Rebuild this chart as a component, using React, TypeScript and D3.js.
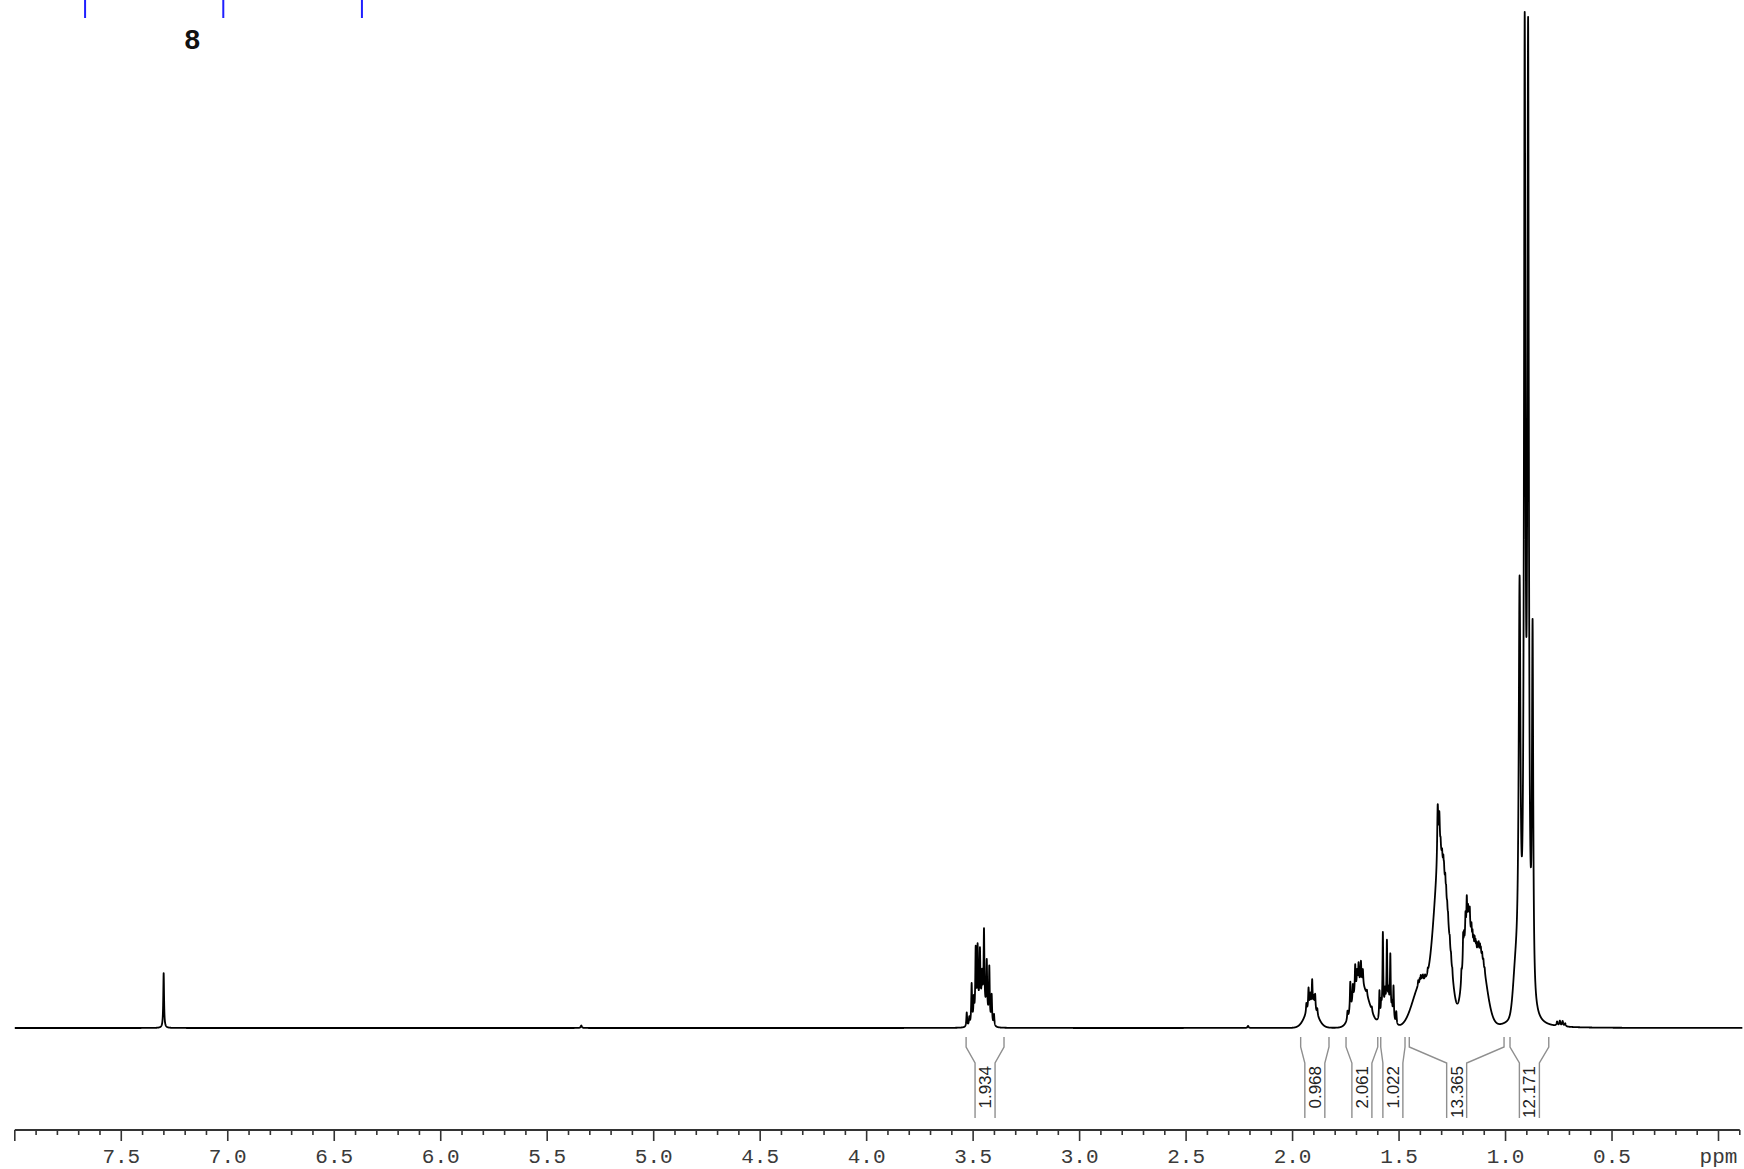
import React, { useMemo } from "react";
import * as d3 from "d3";

// ---- Spectrum data -------------------------------------------------------
// Resolved lines per multiplet: [shift (ppm), height (% of tallest line), half width (ppm)]
const linesCHCl3: number[][] = [[7.301, 5.4, 0.0022]];
const linesMinor: number[][] = [
  [5.34, 0.25, 0.003],
  [2.209, 0.2, 0.003],
];
const lines346: number[][] = [
  [3.53, 1.4, 0.0022], [3.518, 0.8, 0.0022], [3.507, 3.9, 0.0022], [3.497, 2.0, 0.0022],
  [3.488, 6.5, 0.0022], [3.479, 6.1, 0.0022], [3.468, 5.3, 0.0022], [3.458, 2.8, 0.0022],
  [3.449, 7.4, 0.0022], [3.436, 5.1, 0.0022], [3.424, 5.2, 0.0022], [3.413, 2.8, 0.0022],
  [3.402, 1.1, 0.0022],
];
const lines191: number[][] = [
  [1.935, 0.9, 0.0022], [1.925, 2.0, 0.0022], [1.917, 1.2, 0.0022], [1.908, 2.6, 0.0022],
  [1.9, 1.0, 0.0022], [1.894, 1.5, 0.0022], [1.884, 0.6, 0.0022],
];
const lines169: number[][] = [
  [1.742, 0.8, 0.0022], [1.729, 2.9, 0.0022], [1.717, 1.6, 0.0022], [1.706, 2.7, 0.0022],
  [1.697, 1.5, 0.0022], [1.69, 2.0, 0.0022], [1.679, 2.1, 0.0022], [1.67, 1.5, 0.0022],
  [1.651, 0.5, 0.0022], [1.628, 0.4, 0.0022],
];
const lines156: number[][] = [
  [1.592, 2.7, 0.002], [1.584, 1.2, 0.002], [1.576, 7.7, 0.002], [1.566, 1.5, 0.002],
  [1.557, 6.3, 0.002], [1.549, 1.5, 0.002], [1.541, 5.5, 0.002], [1.533, 1.0, 0.002],
  [1.526, 3.2, 0.002], [1.513, 1.2, 0.002],
];
const lines130: number[][] = [
  [1.41, 0.5, 0.0018], [1.403, 0.4, 0.0015], [1.398, 0.6, 0.0018], [1.392, 0.4, 0.0015],
  [1.388, 0.5, 0.0018], [1.378, 0.4, 0.0018], [1.365, 0.4, 0.0015],
  [1.3185, 5.8, 0.003], [1.311, 3.8, 0.003], [1.305, 0.8, 0.0015], [1.298, 0.7, 0.0015],
  [1.292, 0.9, 0.0015], [1.289, 0.7, 0.0015], [1.283, 1.0, 0.0015], [1.279, 0.8, 0.0015],
  [1.274, 0.6, 0.0015], [1.27, 0.6, 0.0015], [1.262, 0.6, 0.0015], [1.256, 0.5, 0.0015],
  [1.25, 0.5, 0.0015],
];
const lines118: number[][] = [
  [1.207, 1.0, 0.0018], [1.199, 2.5, 0.0018], [1.195, 1.4, 0.0015], [1.188, 2.0, 0.0018],
  [1.182, 2.8, 0.0018], [1.176, 1.5, 0.0018], [1.172, 1.1, 0.0015], [1.168, 1.8, 0.0018],
  [1.16, 1.2, 0.0018], [1.155, 1.0, 0.0015], [1.15, 1.0, 0.0018], [1.145, 1.1, 0.0015],
  [1.141, 1.0, 0.0018], [1.137, 0.8, 0.0015], [1.131, 0.8, 0.0018], [1.126, 0.9, 0.0015],
  [1.12, 0.8, 0.0018], [1.116, 0.6, 0.0015], [1.11, 0.6, 0.0018], [1.104, 0.5, 0.0015],
  [1.098, 0.4, 0.0015],
];
const lines090: number[][] = [
  [0.934, 39.7, 0.005], [0.91, 92.6, 0.004], [0.894, 92.5, 0.004], [0.873, 35.7, 0.0035],
];
const lines074: number[][] = [
  [0.758, 0.4, 0.003], [0.745, 0.5, 0.003], [0.732, 0.5, 0.003], [0.72, 0.3, 0.003],
];

// Unresolved envelopes under the multiplets: [center (ppm), height (%), sigma (ppm)]
const envelopes: number[][] = [
  [3.46, 2.2, 0.022],
  [1.912, 2.0, 0.028],
  [1.688, 3.9, 0.03],
  [1.645, 1.4, 0.025],
  [1.558, 2.0, 0.022],
  [1.395, 4.4, 0.04],
  [1.31, 14.8, 0.028],
  [1.27, 5.2, 0.025],
  [1.18, 9.0, 0.022],
  [1.12, 7.0, 0.03],
  [0.952, 4.0, 0.012],
];

// ---- Integrals -------------------------------------------------------------
const integralValues = ["1.934", "0.968", "2.061", "1.022", "13.365", "12.171"];
const integralFrom = [3.533, 1.962, 1.749, 1.586, 1.452, 0.979];
const integralTo = [3.355, 1.829, 1.6, 1.472, 1.007, 0.797];

// ---- Axis --------------------------------------------------------------------
const axisStart = 8.0;
const axisEnd = -0.1;
const tickLabels = ["7.5", "7.0", "6.5", "6.0", "5.5", "5.0", "4.5", "4.0", "3.5", "3.0", "2.5", "2.0", "1.5", "1.0", "0.5"];
const unitLabel = "ppm";

// ---- Assignment markers along the top --------------------------------------
const markerShifts = [7.67, 7.021, 6.37];
const markerText = "8";
const markerTextShift = 7.166;

const W = 1744;
const H = 1169;

const allLines = [
  ...linesCHCl3, ...linesMinor, ...lines346, ...lines191, ...lines169,
  ...lines156, ...lines130, ...lines118, ...lines090, ...lines074,
];

function intensity(p: number): number {
  let s = 0;
  for (const [c, h, w] of allLines) {
    const d = p - c;
    s += (h * w * w) / (w * w + d * d);
  }
  for (const [c, h, sg] of envelopes) {
    const d = (p - c) / sg;
    if (Math.abs(d) < 8) s += h * Math.exp(-0.5 * d * d);
  }
  return s;
}

export default function App() {
  const x = d3.scaleLinear().domain([8.0, 0.0]).range([14.8, 1718.5]);
  const y = d3.scaleLinear().domain([0, 100]).range([1028, 12]);

  const specPath = useMemo(() => {
    const pts: number[] = [];
    const step = 0.0004;
    for (let p = 8.0; p >= -0.112; p -= step) pts.push(p);
    for (const l of allLines) pts.push(l[0]);
    pts.sort((a, b) => b - a);
    const data = pts.map((p) => [p, intensity(p)] as [number, number]);
    const line = d3
      .line<[number, number]>()
      .x((d) => x(d[0]))
      .y((d) => y(d[1]));
    return line(data) || "";
  }, []);

  const ticks = d3.range(Math.round(axisEnd * 10), Math.round(axisStart * 10) + 1).map((i) => i / 10);
  const axisY = 1130;

  const bracketTop = 1037;
  const bracketBend = 1047;
  const bracketInner = 1063;
  const bracketBottom = 1118;

  return (
    <svg
      width={W}
      height={H}
      viewBox={`0 0 ${W} ${H}`}
      style={{ position: "absolute", left: 0, top: 0, display: "block", background: "#fff" }}
    >
      <rect x={0} y={0} width={W} height={H} fill="#fff" />

      {/* assignment markers */}
      {markerShifts.map((m, i) => (
        <line key={"m" + i} x1={x(m)} x2={x(m)} y1={0} y2={18} stroke="#1f1fff" strokeWidth={2} />
      ))}
      <text
        x={x(markerTextShift)}
        y={49}
        textAnchor="middle"
        fontFamily="'Liberation Sans', Arial, sans-serif"
        fontWeight="bold"
        fontSize={28}
        fill="#111"
      >
        {markerText}
      </text>

      {/* spectrum trace */}
      <path d={specPath} fill="none" stroke="#000" strokeWidth={1.8} strokeLinejoin="round" />

      {/* integrals */}
      {integralValues.map((v, i) => {
        const xl = x(integralFrom[i]);
        const xr = x(integralTo[i]);
        const cx = (xl + xr) / 2;
        const half = (xr - xl) / 2;
        const ih = Math.min(10, half - 1);
        const il = cx - ih;
        const ir = cx + ih;
        return (
          <g key={"int" + i}>
            <path
              d={`M${xl},${bracketTop}L${xl},${bracketBend}L${il},${bracketInner}L${il},${bracketBottom}`}
              fill="none"
              stroke="#8f8f8f"
              strokeWidth={1.4}
            />
            <path
              d={`M${xr},${bracketTop}L${xr},${bracketBend}L${ir},${bracketInner}L${ir},${bracketBottom}`}
              fill="none"
              stroke="#8f8f8f"
              strokeWidth={1.4}
            />
            <text
              transform={`translate(${cx + 6},1066) rotate(-90)`}
              textAnchor="end"
              fontFamily="'Liberation Sans', Arial, sans-serif"
              fontSize={17}
              fill="#222"
            >
              {v}
            </text>
          </g>
        );
      })}

      {/* ppm axis */}
      <line x1={x(axisStart)} x2={x(axisEnd)} y1={axisY} y2={axisY} stroke="#333" strokeWidth={2} />
      {ticks.map((t, i) => {
        const major = Math.abs(Math.round(t * 10) % 5) === 0;
        return (
          <line
            key={"t" + i}
            x1={x(t)}
            x2={x(t)}
            y1={axisY}
            y2={axisY + (major ? 11 : 5)}
            stroke="#333"
            strokeWidth={1.6}
          />
        );
      })}
      {tickLabels.map((l, i) => (
        <text
          key={"l" + i}
          x={x(parseFloat(l))}
          y={1163}
          textAnchor="middle"
          fontFamily="'Liberation Mono', 'DejaVu Sans Mono', monospace"
          fontSize={21}
          fill="#3a3a3a"
        >
          {l}
        </text>
      ))}
      <text
        x={x(0)}
        y={1163}
        textAnchor="middle"
        fontFamily="'Liberation Mono', 'DejaVu Sans Mono', monospace"
        fontSize={21}
        fill="#3a3a3a"
      >
        {unitLabel}
      </text>
    </svg>
  );
}
